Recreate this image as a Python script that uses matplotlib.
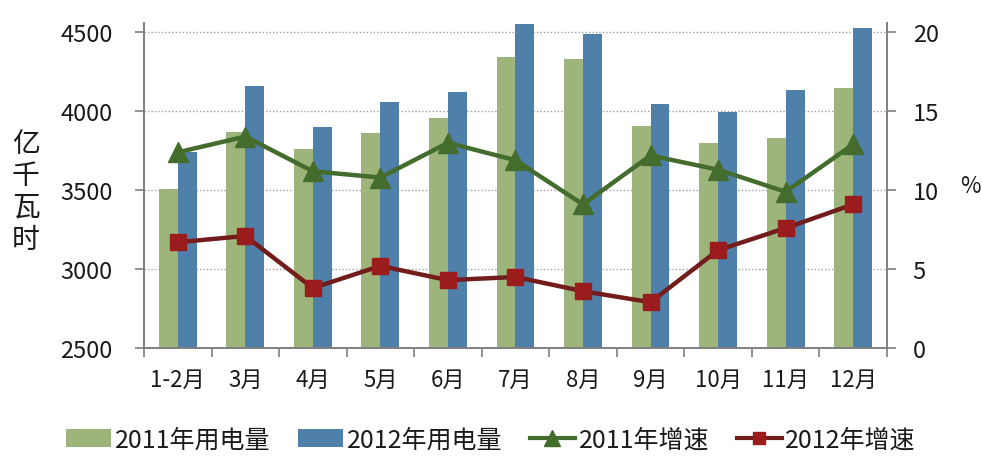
import matplotlib
matplotlib.use("Agg")
import matplotlib.pyplot as plt
import numpy as np
from matplotlib.lines import Line2D
from matplotlib.patches import Patch

plt.rcParams['font.family'] = ['Noto Sans CJK SC', 'DejaVu Sans']

months = ["1-2月", "3月", "4月", "5月", "6月", "7月", "8月", "9月", "10月", "11月", "12月"]
use_2011 = [3505, 3870, 3760, 3860, 3960, 4342, 4330, 3905, 3797, 3829, 4146]
use_2012 = [3741, 4158, 3899, 4057, 4120, 4551, 4487, 4044, 3994, 4133, 4525]
growth_2011 = [12.4, 13.4, 11.2, 10.8, 13.0, 11.9, 9.1, 12.2, 11.3, 9.9, 12.9]
growth_2012 = [6.7, 7.1, 3.8, 5.2, 4.3, 4.5, 3.6, 2.9, 6.2, 7.6, 9.1]
left_ticks = [2500, 3000, 3500, 4000, 4500]
right_ticks = [0, 5, 10, 15, 20]

c_g = "#9db47a"
c_b = "#4f80aa"
c_gl = "#446c2c"
c_r = "#9b1c1c"
c_rl = "#721c1c"
spine_c = "#7f7f7f"
txt_c = "#1a1a1a"

fig = plt.figure(figsize=(9.82, 4.60), dpi=100)
ax = fig.add_axes([0.1466, 0.2413, 0.7566, 0.7067])
x = np.arange(len(months))
w = 0.28
ax.bar(x - w/2, use_2011, width=w, color=c_g, zorder=2)
ax.bar(x + w/2, use_2012, width=w, color=c_b, zorder=2)
ax.set_xlim(-0.5, len(months) - 0.5)
ax.set_ylim(2500, 4560)
ax.set_yticks(left_ticks)
ax.set_yticklabels([str(t) for t in left_ticks], fontsize=17, color=txt_c)
ax.yaxis.grid(True, linestyle=(0, (1, 1.5)), color="#a0a0a0", linewidth=1.0, zorder=0)
ax.set_axisbelow(True)
ax.set_xticks(x)
ax.set_xticklabels(months, fontsize=16, color=txt_c)
ax.set_xticks(np.arange(-0.5, len(months) + 0.5, 1), minor=True)
ax.tick_params(axis='x', which='major', length=0, pad=14)
ax.tick_params(axis='x', which='minor', length=6.5, color=spine_c, width=1.2)
ax.tick_params(axis='y', length=6.5, color=spine_c, width=1.2, pad=16)
ax.spines['top'].set_visible(False)
for s in ['left', 'right', 'bottom']:
    ax.spines[s].set_color(spine_c)
    ax.spines[s].set_linewidth(1.2)

ax.text(-0.159, 0.483, "亿\n千\n瓦\n时", transform=ax.transAxes, fontsize=20,
        ha='center', va='center', linespacing=1.08, color=txt_c)

ax2 = ax.twinx()
ax2.set_ylim(0, 20 * 2060 / 2000)
ax2.set_yticks(right_ticks)
ax2.set_yticklabels([str(t) for t in right_ticks], fontsize=17, color=txt_c)
ax2.tick_params(axis='y', length=6.5, color=spine_c, width=1.2, pad=12)
ax2.spines['top'].set_visible(False)
for s in ['left', 'right', 'bottom']:
    ax2.spines[s].set_color(spine_c)
    ax2.spines[s].set_linewidth(1.2)
ax2.plot(x, growth_2011, color=c_gl, linewidth=3.2, marker='^', markersize=14,
         markerfacecolor=c_gl, markeredgecolor=c_gl, zorder=3)
ax2.plot(x, growth_2012, color=c_rl, linewidth=3.2, marker='s', markersize=11,
         markerfacecolor=c_r, markeredgecolor=c_r, zorder=3)
ax2.text(1.112, 0.5, "%", transform=ax2.transAxes, fontsize=16, ha='center', va='center',
         color=txt_c)

handles = [
    Patch(facecolor=c_g, edgecolor='none'),
    Patch(facecolor=c_b, edgecolor='none'),
    Line2D([0], [0], color=c_gl, linewidth=3, marker='^', markersize=11,
           markerfacecolor=c_gl, markeredgecolor=c_gl),
    Line2D([0], [0], color=c_rl, linewidth=3, marker='s', markersize=9,
           markerfacecolor=c_r, markeredgecolor=c_r),
]
labels = ["2011年用电量", "2012年用电量", "2011年增速", "2012年增速"]
fig.legend(handles, labels, loc='lower center', bbox_to_anchor=(0.5, -0.035), ncol=4,
           frameon=False, fontsize=18, handlelength=1.8, handletextpad=0.15,
           columnspacing=1.1, labelcolor=txt_c)

fig.savefig("out.png", dpi=100)
